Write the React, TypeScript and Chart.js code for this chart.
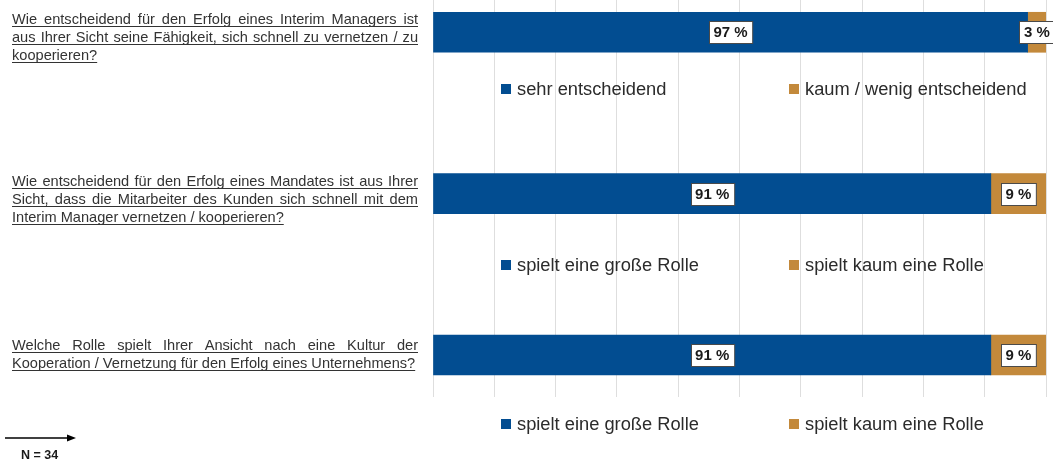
import React, { useEffect, useRef } from "react";
import { Chart, registerables } from "chart.js";

Chart.register(...registerables);

// ---------- data ----------
const questions: string[][] = [
  [
    "Wie entscheidend für den Erfolg eines Interim Managers ist",
    "aus Ihrer Sicht seine Fähigkeit, sich schnell zu vernetzen / zu",
    "kooperieren?",
  ],
  [
    "Wie entscheidend für den Erfolg eines Mandates ist aus Ihrer",
    "Sicht, dass die Mitarbeiter des Kunden sich schnell mit dem",
    "Interim Manager vernetzen / kooperieren?",
  ],
  [
    "Welche Rolle spielt Ihrer Ansicht nach eine Kultur der",
    "Kooperation / Vernetzung für den Erfolg eines Unternehmens?",
  ],
];
const rowIndex = [0, 2, 4];
const positiveValues = [97, 91, 91];
const negativeValues = [3, 9, 9];
const positiveLegend = ["sehr entscheidend", "spielt eine große Rolle", "spielt eine große Rolle"];
const negativeLegend = ["kaum / wenig entscheidend", "spielt kaum eine Rolle", "spielt kaum eine Rolle"];
const legendRows = [0.7, 2.88, 4.86];
const sampleNote = "N = 34";

// ---------- style ----------
const BLUE = "#024d91";
const ORANGE = "#c3893b";
const GRID = "#dedede";
const TEXT = "#2b2b2b";
const FONT = '"Liberation Sans", Arial, sans-serif';

const overlay = {
  id: "overlay",
  afterDatasetsDraw(chart: any) {
    const ctx: CanvasRenderingContext2D = chart.ctx;
    const { left } = chart.chartArea;
    const ys = chart.scales.y;
    ctx.save();

    // data labels
    const valueSets = [positiveValues, negativeValues];
    chart.data.datasets.forEach((_ds: any, di: number) => {
      const meta = chart.getDatasetMeta(di);
      meta.data.forEach((bar: any, i: number) => {
        const p = bar.getProps(["x", "y", "base"], true);
        const cx = (p.x + p.base) / 2;
        const cy = p.y;
        const txt = `${valueSets[di][i]} %`;
        ctx.font = `bold 15px ${FONT}`;
        const w = ctx.measureText(txt).width + 9;
        const h = 22;
        const bx = Math.round(cx - w / 2) + 0.5;
        const by = Math.round(cy - h / 2) + 0.5;
        ctx.fillStyle = "#ffffff";
        ctx.fillRect(bx, by, w, h);
        ctx.strokeStyle = "#4a4a4a";
        ctx.lineWidth = 1;
        ctx.strokeRect(bx, by, w, h);
        ctx.fillStyle = "#1a1a1a";
        ctx.textAlign = "center";
        ctx.textBaseline = "middle";
        ctx.fillText(txt, cx, cy + 1);
      });
    });

    // legends
    ctx.font = `18.3px ${FONT}`;
    ctx.textAlign = "left";
    ctx.textBaseline = "middle";
    legendRows.forEach((v, i) => {
      const y = ys.getPixelForValue(v);
      const items = [
        { x: left + 68, color: BLUE, label: positiveLegend[i] },
        { x: left + 356, color: ORANGE, label: negativeLegend[i] },
      ];
      items.forEach((it) => {
        ctx.fillStyle = it.color;
        ctx.fillRect(it.x, Math.round(y - 5), 10, 10);
        ctx.fillStyle = TEXT;
        ctx.fillText(it.label, it.x + 16, y + 1);
      });
    });

    // question labels (justified, underlined)
    const tl = 12;
    const tr = 418;
    ctx.font = `14.6px ${FONT}`;
    ctx.textBaseline = "alphabetic";
    ctx.fillStyle = "#333333";
    ctx.strokeStyle = "#333333";
    questions.forEach((lines, qi) => {
      const c = ys.getPixelForValue(rowIndex[qi]);
      const first = c + 1 - 3 * lines.length;
      lines.forEach((line, j) => {
        const base = first + 18 * j;
        const last = j === lines.length - 1;
        let endX: number;
        if (last) {
          ctx.fillText(line, tl, base);
          endX = tl + ctx.measureText(line).width;
        } else {
          const words = line.split(" ");
          const total = words.reduce((s, w) => s + ctx.measureText(w).width, 0);
          const gap = (tr - tl - total) / (words.length - 1);
          let x = tl;
          words.forEach((w) => {
            ctx.fillText(w, x, base);
            x += ctx.measureText(w).width + gap;
          });
          endX = tr;
        }
        ctx.lineWidth = 1;
        ctx.beginPath();
        ctx.moveTo(tl, Math.round(base + 2) + 0.5);
        ctx.lineTo(endX, Math.round(base + 2) + 0.5);
        ctx.stroke();
      });
    });

    // arrow + sample size
    ctx.strokeStyle = "#000";
    ctx.fillStyle = "#000";
    ctx.lineWidth = 1.5;
    ctx.beginPath();
    ctx.moveTo(5, 438);
    ctx.lineTo(69, 438);
    ctx.stroke();
    ctx.beginPath();
    ctx.moveTo(76, 438);
    ctx.lineTo(67, 434.5);
    ctx.lineTo(67, 441.5);
    ctx.closePath();
    ctx.fill();
    ctx.font = `bold 12.5px ${FONT}`;
    ctx.fillStyle = "#1a1a1a";
    ctx.fillText(sampleNote, 21, 459);

    ctx.restore();
  },
};

export default function App() {
  const ref = useRef<HTMLCanvasElement | null>(null);
  useEffect(() => {
    if (!ref.current) return;
    const chart = new Chart(ref.current, {
      type: "bar",
      data: {
        datasets: [
          {
            label: "positiv",
            data: positiveValues.map((v, i) => ({ x: v, y: rowIndex[i] })),
            backgroundColor: BLUE,
            borderWidth: 0,
            barThickness: 40,
          },
          {
            label: "negativ",
            data: negativeValues.map((v, i) => ({ x: v, y: rowIndex[i] })),
            backgroundColor: ORANGE,
            borderWidth: 0,
            barThickness: 40,
          },
        ] as any,
      },
      options: {
        indexAxis: "y",
        animation: false,
        responsive: false,
        maintainAspectRatio: false,
        layout: { padding: { left: 433, right: 7, top: 0, bottom: 62 } },
        plugins: { legend: { display: false }, tooltip: { enabled: false } },
        scales: {
          x: {
            type: "linear",
            stacked: true,
            min: 0,
            max: 100,
            ticks: { display: false, stepSize: 10 },
            grid: { color: GRID, lineWidth: 1, drawTicks: false },
            border: { display: false },
          },
          y: {
            type: "linear",
            stacked: true,
            reverse: true,
            offset: false,
            min: -0.4,
            max: 4.52,
            display: false,
            grid: { offset: false },
          },
        },
      } as any,
      plugins: [overlay],
    });
    return () => chart.destroy();
  }, []);
  return (
    <div style={{ position: "absolute", left: 0, top: 0, width: 1053, height: 459 }}>
      <canvas ref={ref} width={1053} height={459} style={{ display: "block" }} />
    </div>
  );
}
